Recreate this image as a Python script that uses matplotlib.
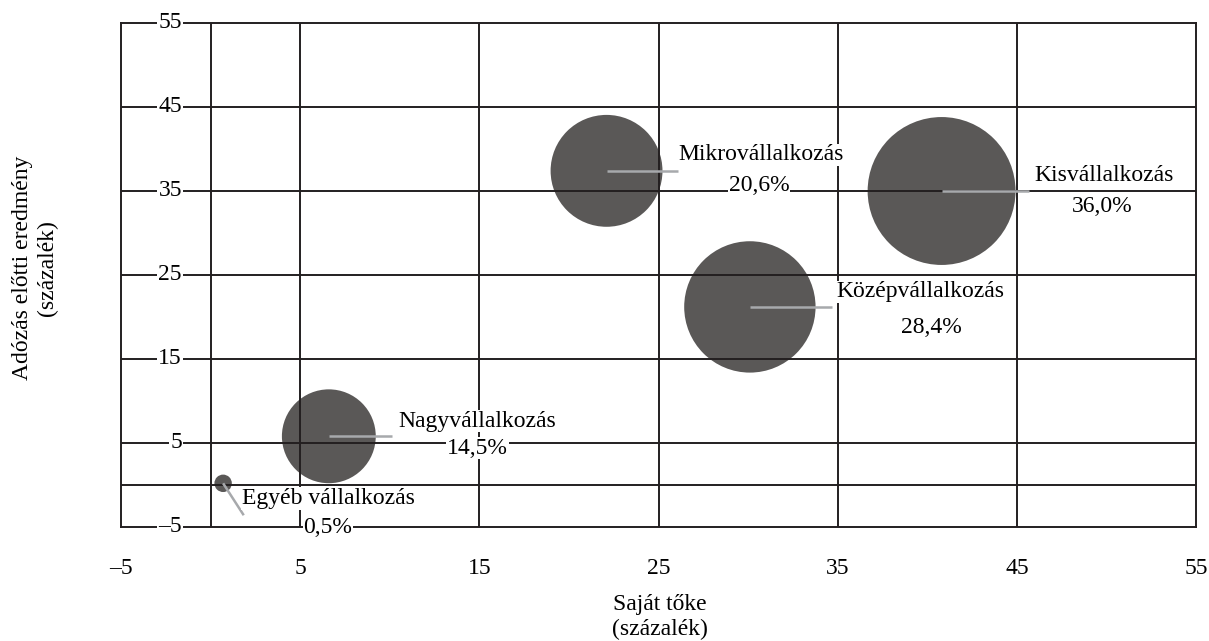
import matplotlib
matplotlib.use("Agg")
import matplotlib.pyplot as plt

# -----------------------------
# Data
# -----------------------------

names = ["Egyéb vállalkozás", "Nagyvállalkozás", "Mikrovállalkozás",
         "Középvállalkozás", "Kisvállalkozás"]
shares = [0.5, 14.5, 20.6, 28.4, 36.0]
share_labels = ["0,5%", "14,5%", "20,6%", "28,4%", "36,0%"]
equity = [0.7, 6.6, 22.1, 30.1, 40.8]
profit = [0.2, 5.8, 37.4, 21.2, 35.0]

# label placement (name line / percent line) and leader line ends
name_pos = [(6.55, -1.6), (14.9, 7.6), (30.7, 39.3), (39.6, 23.0), (49.85, 36.8)]
pct_pos = [(6.55, -5.1), (14.9, 4.4), (30.6, 35.6), (40.25, 18.8), (49.75, 33.1)]
leader_end = [(1.85, -3.6), (10.1, 5.8), (26.1, 37.4), (34.7, 21.2), (45.7, 35.0)]

ticks = [-5, 5, 15, 25, 35, 45, 55]
grid_vals = [0, 5, 15, 25, 35, 45]

# -----------------------------
# Style
# -----------------------------

plt.rcParams["font.family"] = ["Liberation Serif", "DejaVu Serif"]
fs = 17
line_color = "#231f20"
bubble_color = "#5a5857"
leader_color = "#a7a9ac"
lw = 1.4

fig = plt.figure(figsize=(12.09, 6.41), dpi=100)
ax = fig.add_axes([121 / 1209, 1 - 527 / 641, 1075 / 1209, 504 / 641])

ax.set_xlim(-5, 55)
ax.set_ylim(-5, 55)

# bubbles (area proportional to share)
ax.scatter(equity, profit, s=[v * 315 for v in shares], color=bubble_color,
           edgecolors="none", zorder=2)

# grid drawn over the bubbles
for v in grid_vals:
    ax.axvline(v, color=line_color, lw=lw, zorder=3)
    ax.axhline(v, color=line_color, lw=lw, zorder=3)

for side in ["left", "right", "top", "bottom"]:
    ax.spines[side].set_color(line_color)
    ax.spines[side].set_linewidth(lw)
    ax.spines[side].set_zorder(3)

# leader lines
for i in range(len(names)):
    ax.plot([equity[i], leader_end[i][0]], [profit[i], leader_end[i][1]],
            color=leader_color, lw=1.8, solid_capstyle="butt", zorder=4)

# labels
box = dict(facecolor="white", edgecolor="none", pad=0.5)
for i in range(len(names)):
    ax.text(name_pos[i][0], name_pos[i][1], names[i], fontsize=fs,
            ha="center", va="center", bbox=box, zorder=6, clip_on=False)
    ax.text(pct_pos[i][0], pct_pos[i][1], share_labels[i], fontsize=fs,
            ha="center", va="center", bbox=box, zorder=6, clip_on=False)

# x ticks below the plot
ax.set_xticks(ticks)
ax.set_xticklabels([str(t).replace("-", "\u2013") for t in ticks], fontsize=fs)
ax.tick_params(axis="x", length=0, pad=22)

# y tick labels sit inside the plot on the grid lines
ax.set_yticks([])
for t in ticks:
    ax.text(-1.6, t, str(t).replace("-", "\u2013"), fontsize=fs,
            ha="right", va="center", bbox=dict(facecolor="white", edgecolor="none", pad=1),
            zorder=6, clip_on=False)

# axis titles
fig.text(660 / 1209, 1 - 617 / 641, "Saját tőke\n(százalék)", fontsize=fs,
         ha="center", va="center", linespacing=1.25)
fig.text(35 / 1209, 1 - 268 / 641, "Adózás előtti eredmény\n(százalék)", fontsize=fs,
         ha="center", va="center", rotation=90, linespacing=1.25)

fig.savefig("out.png", dpi=100, facecolor="white")
